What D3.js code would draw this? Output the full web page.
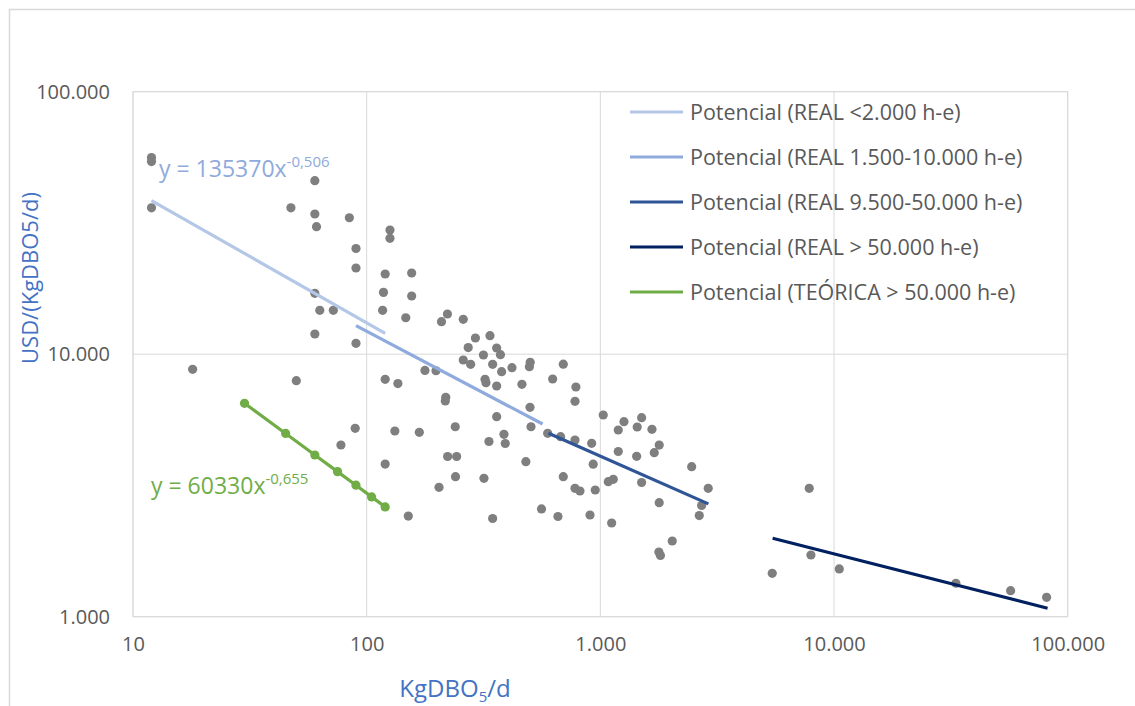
<!DOCTYPE html>
<html>
<head>
<meta charset="utf-8">
<script src="https://cdn.jsdelivr.net/npm/d3@7"></script>
<style>
  html, body { margin: 0; padding: 0; background: #ffffff; }
  svg { display: block; }
  text { font-family: "Open Sans", "DejaVu Sans", sans-serif; }
</style>
</head>
<body>
<svg id="chart" width="1135" height="706"></svg>
<script>
// ---------- DATA ----------
const scatterX = [12, 12, 12, 18, 47.4, 50, 60, 60, 61, 60, 63, 72, 60, 77.6, 84.3, 90, 90, 90, 89.3,
  118, 117, 120, 120, 120, 125.8, 125.8, 132, 136, 147, 150.7, 155.8, 155.8, 168, 177.6, 198, 204,
  209, 221.6, 218, 217, 222, 242.7, 239.4, 240, 259, 259, 272, 278.6, 292, 316, 321, 324, 317.6,
  333.7, 337, 346, 346, 360, 373.7, 360, 360, 378, 386.8, 391.8, 418.6, 461.8, 480, 501, 497, 500,
  505, 560, 595, 625, 658.6, 676, 694, 694, 779, 786, 779, 779, 818, 903, 918, 932, 951, 1029, 1081,
  1136, 1118, 1193, 1193, 1262, 1430, 1438, 1502, 1502, 1663, 1701, 1786, 1786, 1780, 1808, 2031,
  2459, 2650, 2713, 2895, 7832, 7965, 5440, 10530, 33230, 56980, 81230];
const scatterY = [56100, 54200, 36100, 8760, 36100, 7925, 45800, 34200, 30600, 17060, 14700, 14700,
  11940, 4510, 33100, 25270, 21300, 11000, 5220, 17200, 14700, 20210, 8020, 3816, 29720, 27640, 5098,
  7730, 13770, 2418, 20390, 16660, 5040, 8670, 8650, 3112, 13300, 14225, 6850, 6632, 4077, 4077, 5293,
  3415, 13580, 9504, 10600, 9152, 11527, 9930, 8020, 7788, 3367, 4650, 11765, 9152, 2366, 10560, 9957,
  7567, 5780, 8578, 4953, 4568, 8884, 7680, 3895, 9314, 8964, 6277, 5293, 2573, 4996, 8045, 2408, 4850,
  9160, 3415, 4711, 7500, 6615, 3084, 3012, 2440, 4577, 3810, 3039, 5867, 3268, 3337, 2275, 5143, 4259,
  5531, 4083, 5280, 5730, 3245, 5175, 4214, 4508, 2719, 1764, 1711, 1943, 3727, 2429, 2652, 3084,
  3084, 1718, 1463, 1520, 1341, 1256, 1185];

// theoretical curve (TEÓRICA > 50.000 h-e)
const greenX = [30, 45, 60, 75, 90, 105, 120];
const greenY = [6500, 4990, 4130, 3570, 3170, 2860, 2620];

// fitted power trend lines (end points)
const trendNames = [
  "Potencial (REAL <2.000 h-e)",
  "Potencial (REAL 1.500-10.000 h-e)",
  "Potencial (REAL 9.500-50.000 h-e)",
  "Potencial (REAL > 50.000 h-e)",
  "Potencial (TEÓRICA > 50.000 h-e)"
];
const trendX = [[12, 120], [90, 566], [600, 2900], [5460, 82000]];
const trendY = [[38500, 12000], [12850, 5420], [5000, 2690], [1990, 1077]];
const trendColors = ["#B4C7E7", "#8FAADC", "#2F5597", "#002060", "#70AD47"];

const xTicks = [10, 100, 1000, 10000, 100000];
const yTicks = [1000, 10000, 100000];

// ---------- CHART ----------
const svg = d3.select("#chart");
const plot = { left: 133, right: 1067.7, top: 91.7, bottom: 616.7 };

const x = d3.scaleLog().domain([10, 100000]).range([plot.left, plot.right]);
const y = d3.scaleLog().domain([1000, 100000]).range([plot.bottom, plot.top]);

const esLocale = d3.formatLocale({ decimal: ",", thousands: ".", grouping: [3], currency: ["", "€"] });
const fmt = esLocale.format(",d");

// outer chart border
svg.append("rect").attr("x", 9.5).attr("y", 9.5).attr("width", 1140).attr("height", 720)
  .attr("fill", "none").attr("stroke", "#d9d9d9").attr("stroke-width", 1.5);

// gridlines
svg.append("g").selectAll("line").data(xTicks).join("line")
  .attr("x1", d => x(d)).attr("x2", d => x(d))
  .attr("y1", plot.top).attr("y2", plot.bottom)
  .attr("stroke", "#d9d9d9").attr("stroke-width", 1);
svg.append("g").selectAll("line").data(yTicks).join("line")
  .attr("x1", plot.left).attr("x2", plot.right)
  .attr("y1", d => y(d)).attr("y2", d => y(d))
  .attr("stroke", "#d9d9d9").attr("stroke-width", 1);
svg.append("rect").attr("x", plot.left).attr("y", plot.top)
  .attr("width", plot.right - plot.left).attr("height", plot.bottom - plot.top)
  .attr("fill", "none").attr("stroke", "#d9d9d9").attr("stroke-width", 1);

// axes (labels only)
const xAxis = svg.append("g").attr("transform", `translate(0,${plot.bottom})`)
  .call(d3.axisBottom(x).tickValues(xTicks).tickFormat(fmt).tickSize(0).tickPadding(20));
xAxis.select(".domain").remove();
xAxis.selectAll("text").attr("font-family", "Open Sans").attr("font-size", 20).attr("fill", "#595959");

const yAxis = svg.append("g").attr("transform", `translate(${plot.left},0)`)
  .call(d3.axisLeft(y).tickValues(yTicks).tickFormat(fmt).tickSize(0).tickPadding(23));
yAxis.select(".domain").remove();
yAxis.selectAll("text").attr("font-family", "Open Sans").attr("font-size", 20).attr("fill", "#595959");

// scatter points
const pts = scatterX.map((v, i) => [v, scatterY[i]]);
svg.append("g").selectAll("circle").data(pts).join("circle")
  .attr("cx", d => x(d[0])).attr("cy", d => y(d[1])).attr("r", 4.6)
  .attr("fill", "#7f7f7f");

// trend lines
const line = d3.line().x(d => x(d[0])).y(d => y(d[1]));
trendX.forEach((xs, i) => {
  const dat = xs.map((v, j) => [v, trendY[i][j]]);
  svg.append("path").datum(dat).attr("d", line)
    .attr("fill", "none").attr("stroke", trendColors[i]).attr("stroke-width", 3.2)
    .attr("stroke-linecap", "butt");
});

// green theoretical series
const gdat = greenX.map((v, i) => [v, greenY[i]]);
svg.append("path").datum(gdat).attr("d", line)
  .attr("fill", "none").attr("stroke", trendColors[4]).attr("stroke-width", 3.2);
svg.append("g").selectAll("circle").data(gdat).join("circle")
  .attr("cx", d => x(d[0])).attr("cy", d => y(d[1])).attr("r", 4.6)
  .attr("fill", trendColors[4]);

// equations
const eq1 = svg.append("text").attr("x", 159).attr("y", 177).attr("fill", "#8FAADC").attr("font-size", 23);
eq1.append("tspan").text("y = 135370x");
eq1.append("tspan").attr("dy", -10).attr("font-size", 15).text("-0,506");

const eq2 = svg.append("text").attr("x", 151).attr("y", 494).attr("fill", "#70AD47").attr("font-size", 23);
eq2.append("tspan").text("y = 60330x");
eq2.append("tspan").attr("dy", -10).attr("font-size", 15).text("-0,655");

// legend
const legY = [112, 157, 202, 247, 292];
const leg = svg.append("g");
trendNames.forEach((name, i) => {
  leg.append("line").attr("x1", 630).attr("x2", 683).attr("y1", legY[i]).attr("y2", legY[i])
    .attr("stroke", trendColors[i]).attr("stroke-width", 3.2);
  leg.append("text").attr("x", 690).attr("y", legY[i]).attr("dy", "0.35em")
    .attr("font-size", 21.5).attr("fill", "#595959").text(name);
});

// axis titles
const xt = svg.append("text").attr("x", 455).attr("y", 697).attr("text-anchor", "middle")
  .attr("font-size", 24).attr("fill", "#4472C4");
xt.append("tspan").text("KgDBO");
xt.append("tspan").attr("font-size", 15).attr("dy", 5).text("5");
xt.append("tspan").attr("dy", -5).text("/d");

svg.append("text").attr("transform", "translate(38,278) rotate(-90)")
  .attr("text-anchor", "middle").attr("font-size", 22).attr("fill", "#4472C4")
  .text("USD/(KgDBO5/d)");
</script>
</body>
</html>
